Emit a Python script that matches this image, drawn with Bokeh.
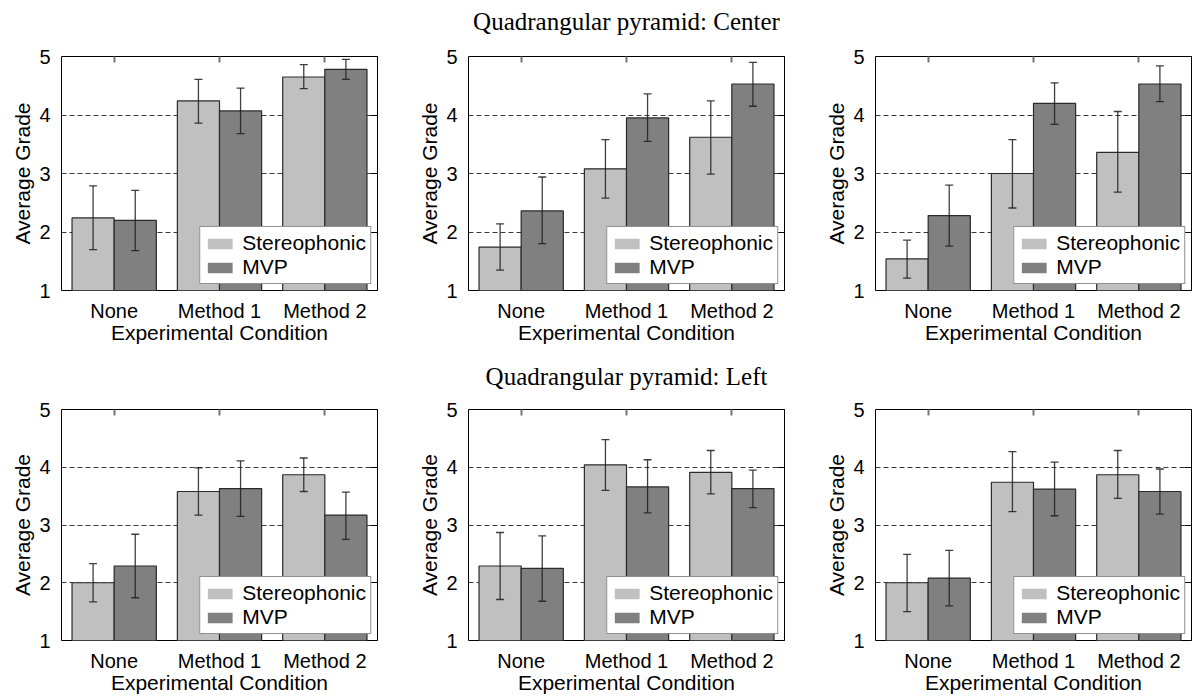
from bokeh.plotting import figure
from bokeh.models import (ColumnDataSource, Range1d, FixedTicker, Whisker,
                          TeeHead, Legend, LegendItem, LinearAxis)
from bokeh.transform import dodge
from bokeh.layouts import column, row
from bokeh.embed import file_html
from bokeh.resources import INLINE

# ---------------- data ----------------
categories = ["None", "Method 1", "Method 2"]
series_names = ["Stereophonic", "MVP"]
row_titles = ["Quadrangular pyramid: Center", "Quadrangular pyramid: Left"]
y_ticks = [1, 2, 3, 4, 5]

# top row (Center)
c1_stereo = [2.24, 4.24, 4.65]
c1_stereo_lo = [1.70, 3.86, 4.45]
c1_stereo_hi = [2.79, 4.61, 4.86]
c1_mvp = [2.20, 4.07, 4.78]
c1_mvp_lo = [1.68, 3.68, 4.61]
c1_mvp_hi = [2.71, 4.46, 4.95]

c2_stereo = [1.74, 3.08, 3.62]
c2_stereo_lo = [1.35, 2.58, 2.99]
c2_stereo_hi = [2.14, 3.58, 4.24]
c2_mvp = [2.36, 3.95, 4.53]
c2_mvp_lo = [1.80, 3.55, 4.15]
c2_mvp_hi = [2.94, 4.36, 4.90]

c3_stereo = [1.54, 3.00, 3.36]
c3_stereo_lo = [1.21, 2.41, 2.68]
c3_stereo_hi = [1.86, 3.58, 4.06]
c3_mvp = [2.28, 4.20, 4.53]
c3_mvp_lo = [1.76, 3.84, 4.23]
c3_mvp_hi = [2.80, 4.55, 4.84]

# bottom row (Left)
l1_stereo = [2.00, 3.58, 3.87]
l1_stereo_lo = [1.67, 3.17, 3.58]
l1_stereo_hi = [2.33, 3.99, 4.16]
l1_mvp = [2.29, 3.63, 3.17]
l1_mvp_lo = [1.74, 3.15, 2.75]
l1_mvp_hi = [2.84, 4.11, 3.57]

l2_stereo = [2.29, 4.04, 3.91]
l2_stereo_lo = [1.71, 3.60, 3.54]
l2_stereo_hi = [2.87, 4.48, 4.29]
l2_mvp = [2.25, 3.66, 3.63]
l2_mvp_lo = [1.68, 3.21, 3.30]
l2_mvp_hi = [2.81, 4.13, 3.95]

l3_stereo = [2.00, 3.74, 3.87]
l3_stereo_lo = [1.50, 3.23, 3.46]
l3_stereo_hi = [2.49, 4.27, 4.29]
l3_mvp = [2.08, 3.62, 3.58]
l3_mvp_lo = [1.60, 3.16, 3.19]
l3_mvp_hi = [2.56, 4.09, 3.97]

panels = [
    (c1_stereo, c1_stereo_lo, c1_stereo_hi, c1_mvp, c1_mvp_lo, c1_mvp_hi),
    (c2_stereo, c2_stereo_lo, c2_stereo_hi, c2_mvp, c2_mvp_lo, c2_mvp_hi),
    (c3_stereo, c3_stereo_lo, c3_stereo_hi, c3_mvp, c3_mvp_lo, c3_mvp_hi),
    (l1_stereo, l1_stereo_lo, l1_stereo_hi, l1_mvp, l1_mvp_lo, l1_mvp_hi),
    (l2_stereo, l2_stereo_lo, l2_stereo_hi, l2_mvp, l2_mvp_lo, l2_mvp_hi),
    (l3_stereo, l3_stereo_lo, l3_stereo_hi, l3_mvp, l3_mvp_lo, l3_mvp_hi),
]

positions = list(range(1, len(categories) + 1))

# ---------------- style / geometry ----------------
SANS = "Liberation Sans"
SERIF = "Liberation Serif"
LIGHT = "#c0c0c0"
DARK = "#808080"
EDGE = "#2a2a2a"
ERR = "#1e1e1e"

FIG_W = [410, 405, 377]
LEFTS = [61, 58, 60]
FRAME_W = 316
FRAME_H = 234
ROW_H = [350, 346]
ROW_TOP = [56, 59]
TITLE_STANDOFF = [22, 20]


def make_panel(idx, data):
    s, slo, shi, m, mlo, mhi = data
    c = idx % 3
    r = idx // 3
    left = LEFTS[c]
    right = FIG_W[c] - left - FRAME_W
    top = ROW_TOP[r]
    bottom = ROW_H[r] - top - FRAME_H

    p = figure(width=FIG_W[c], height=ROW_H[r],
               x_range=Range1d(0.5, len(categories) + 0.5),
               y_range=Range1d(1, 5),
               min_border_left=left, min_border_right=right,
               min_border_top=top, min_border_bottom=bottom,
               output_backend="svg", toolbar_location=None)
    p.title = None

    src = ColumnDataSource(dict(pos=positions, s=s, slo=slo, shi=shi,
                                m=m, mlo=mlo, mhi=mhi))
    xs = dodge("pos", -0.2)
    xm = dodge("pos", 0.2)

    # legend swatch renderers (fill only, drawn beneath the outlined bars)
    ls = p.vbar(x=xs, top="s", bottom=1, width=0.4, source=src,
                fill_color=LIGHT, line_color=None)
    lm = p.vbar(x=xm, top="m", bottom=1, width=0.4, source=src,
                fill_color=DARK, line_color=None)

    p.vbar(x=xs, top="s", bottom=1, width=0.4, source=src,
           fill_color=LIGHT, line_color=EDGE, line_width=1.2)
    p.vbar(x=xm, top="m", bottom=1, width=0.4, source=src,
           fill_color=DARK, line_color=EDGE, line_width=1.2)

    for base, lo, hi in ((xs, "slo", "shi"), (xm, "mlo", "mhi")):
        w = Whisker(source=src, base=base, lower=lo, upper=hi, level="annotation",
                    line_color=ERR, line_width=1.3, line_alpha=0.85,
                    upper_head=TeeHead(size=8, line_color=ERR, line_width=1.3, line_alpha=0.85),
                    lower_head=TeeHead(size=8, line_color=ERR, line_width=1.3, line_alpha=0.85))
        p.add_layout(w)

    leg = Legend(items=[LegendItem(label=series_names[0], renderers=[ls]),
                        LegendItem(label=series_names[1], renderers=[lm])],
                 location="bottom_right", margin=6, padding=4, spacing=-3,
                 glyph_width=31, glyph_height=13, label_standoff=7,
                 label_text_font=SANS, label_text_font_size="21px",
                 label_text_color="black",
                 border_line_color="#222222", border_line_width=1,
                 background_fill_color="white", background_fill_alpha=1.0)
    p.add_layout(leg)

    # grid
    p.xgrid.visible = False
    p.ygrid.ticker = FixedTicker(ticks=[2, 3, 4])
    p.ygrid.grid_line_color = "#3a3a3a"
    p.ygrid.grid_line_dash = "5 3"
    p.ygrid.grid_line_width = 1

    # frame
    p.outline_line_color = "black"
    p.outline_line_width = 1
    p.outline_line_alpha = 1
    p.background_fill_color = "white"
    p.border_fill_color = "white"

    # left axis
    ya = p.yaxis[0]
    ya.ticker = FixedTicker(ticks=y_ticks)
    ya.axis_line_color = None
    ya.major_tick_line_color = None
    ya.minor_tick_line_color = None
    ya.major_label_standoff = 5
    ya.major_label_text_font = SANS
    ya.major_label_text_font_size = "20px"
    ya.major_label_text_color = "black"
    ya.axis_label = "Average Grade"
    ya.axis_label_text_font = SANS
    ya.axis_label_text_font_size = "21px"
    ya.axis_label_text_font_style = "normal"
    ya.axis_label_text_color = "black"
    ya.axis_label_standoff = 2

    # bottom axis
    xa = p.xaxis[0]
    xa.ticker = FixedTicker(ticks=positions)
    xa.major_label_overrides = {pos: cat for pos, cat in zip(positions, categories)}
    xa.axis_line_color = None
    xa.major_tick_line_color = None
    xa.minor_tick_line_color = None
    xa.major_label_standoff = 3
    xa.major_label_text_font = SANS
    xa.major_label_text_font_size = "20px"
    xa.major_label_text_color = "black"
    xa.axis_label = "Experimental Condition"
    xa.axis_label_text_font = SANS
    xa.axis_label_text_font_size = "21px"
    xa.axis_label_text_font_style = "normal"
    xa.axis_label_text_color = "black"
    xa.axis_label_standoff = -4

    # right ticks (inward, unlabeled)
    ra = LinearAxis(ticker=FixedTicker(ticks=[], minor_ticks=y_ticks), axis_line_color=None,
                    major_tick_line_color=None, minor_tick_in=7, minor_tick_out=0,
                    minor_tick_line_color="black", minor_tick_line_width=1,
                    major_label_standoff=0)
    p.add_layout(ra, "right")

    # top ticks (inward, unlabeled) + row title on the middle panel
    ta = LinearAxis(ticker=FixedTicker(ticks=[], minor_ticks=positions), axis_line_color=None,
                    major_tick_line_color=None, minor_tick_in=6, minor_tick_out=0,
                    minor_tick_line_color="#777777", minor_tick_line_width=2,
                    major_label_standoff=0)
    if c == 1:
        ta.axis_label = row_titles[r]
        ta.axis_label_text_font = SERIF
        ta.axis_label_text_font_size = "25px"
        ta.axis_label_text_font_style = "normal"
        ta.axis_label_text_color = "black"
        ta.axis_label_standoff = TITLE_STANDOFF[r]
    p.add_layout(ta, "above")
    return p


figs = [make_panel(i, d) for i, d in enumerate(panels)]
layout = column(row(*figs[:3]), row(*figs[3:]))

open("out.html", "w").write(file_html(layout, INLINE))
